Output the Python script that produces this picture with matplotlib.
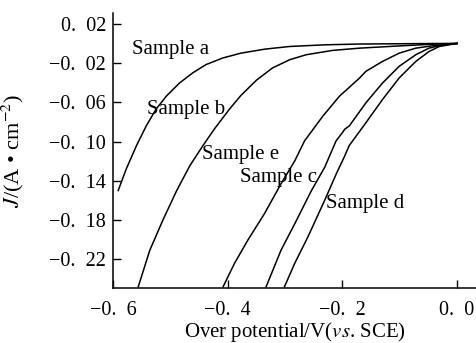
import matplotlib
matplotlib.use("Agg")
import matplotlib.pyplot as plt
from matplotlib.ticker import FixedLocator, FixedFormatter

plt.rcParams['font.family'] = ['Liberation Serif', 'DejaVu Serif']
plt.rcParams['mathtext.fontset'] = 'stix'

# Data
a_x = [-0.591, -0.577, -0.559, -0.542, -0.525, -0.507, -0.484, -0.461, -0.438, -0.409,
       -0.377, -0.335, -0.292, -0.230, -0.170, -0.043, 0.0]
a_y = [-0.150, -0.128, -0.104, -0.084, -0.067, -0.0537, -0.0403, -0.030, -0.0216, -0.0149,
       -0.0099, -0.0058, -0.0031, -0.0014, -0.0006, -0.0001, 0.0]

b_x = [-0.556, -0.536, -0.513, -0.489, -0.466, -0.443, -0.423, -0.397, -0.377, -0.350,
       -0.322, -0.292, -0.263, -0.217, -0.170, -0.100, -0.043, 0.0]
b_y = [-0.248, -0.211, -0.180, -0.150, -0.1246, -0.104, -0.087, -0.067, -0.053, -0.0375,
       -0.025, -0.0166, -0.0115, -0.0071, -0.0048, -0.0025, -0.0008, 0.0]

e_x = [-0.408, -0.388, -0.365, -0.336, -0.307, -0.283, -0.266, -0.234, -0.205, -0.170,
       -0.159, -0.130, -0.101, -0.072, -0.043, 0.0]
e_y = [-0.248, -0.224, -0.2006, -0.1736, -0.143, -0.1196, -0.0993, -0.074, -0.0537, -0.0352,
       -0.0284, -0.0183, -0.0099, -0.0048, -0.0024, 0.0]

c_x = [-0.333, -0.307, -0.283, -0.254, -0.231, -0.211, -0.200, -0.196, -0.188, -0.159,
       -0.130, -0.101, -0.072, -0.049, -0.025, 0.0]
c_y = [-0.248, -0.2107, -0.1837, -0.150, -0.1264, -0.0993, -0.0909, -0.0875, -0.0841, -0.0605,
       -0.0403, -0.0233, -0.0115, -0.0048, -0.0015, 0.0]

d_x = [-0.301, -0.283, -0.260, -0.231, -0.210, -0.197, -0.188, -0.159, -0.130, -0.101,
       -0.072, -0.049, -0.031, 0.0]
d_y = [-0.248, -0.224, -0.197, -0.160, -0.132, -0.116, -0.104, -0.0808, -0.0571, -0.0352,
       -0.0183, -0.0082, -0.0031, 0.0]

series = [(a_x, a_y), (b_x, b_y), (e_x, e_y), (c_x, c_y), (d_x, d_y)]

labels = ["Sample a", "Sample b", "Sample e", "Sample c", "Sample d"]
label_x = [-0.567, -0.541, -0.445, -0.379, -0.228]
label_y = [-0.006, -0.067, -0.113, -0.137, -0.163]

xticks = [-0.6, -0.4, -0.2, 0.0]
xticklabels = ["\u22120.\u20026", "\u22120.\u20024", "\u22120.\u20022", "0.\u20020"]
yticks = [0.02, -0.02, -0.06, -0.10, -0.14, -0.18, -0.22]
yticklabels = ["0.\u200202", "\u22120.\u200202", "\u22120.\u200206", "\u22120.\u200210",
               "\u22120.\u200214", "\u22120.\u200218", "\u22120.\u200222"]

fig = plt.figure(figsize=(4.77, 3.43), dpi=100)
ax = fig.add_axes([0.237, 0.160, 0.761, 0.802])

for xs, ys in series:
    ax.plot(xs, ys, color='black', lw=1.1, solid_joinstyle='round')

for t, x, y in zip(labels, label_x, label_y):
    ax.text(x, y, t, fontsize=15, ha='left', va='center')

ax.set_xlim(-0.6, 0.033)
ax.set_ylim(-0.2495, 0.031)
ax.xaxis.set_major_locator(FixedLocator(xticks))
ax.xaxis.set_major_formatter(FixedFormatter(xticklabels))
ax.yaxis.set_major_locator(FixedLocator(yticks))
ax.yaxis.set_major_formatter(FixedFormatter(yticklabels))
ax.tick_params(direction='in', length=6, width=1, labelsize=14.5)
ax.tick_params(axis='x', pad=9)
ax.tick_params(axis='y', pad=5)

for s in ['top', 'right']:
    ax.spines[s].set_visible(False)
for s in ['left', 'bottom']:
    ax.spines[s].set_linewidth(1.1)

ax.set_xlabel(r"Over potential/V($vs$. SCE)", fontsize=15)
ax.xaxis.set_label_coords(0.5, -0.115)
ax.set_ylabel("$J$/(A \u2022 cm$^{-2}$)", fontsize=16)
ax.yaxis.set_label_coords(-0.24, 0.5)

fig.savefig("out.png", dpi=100)
